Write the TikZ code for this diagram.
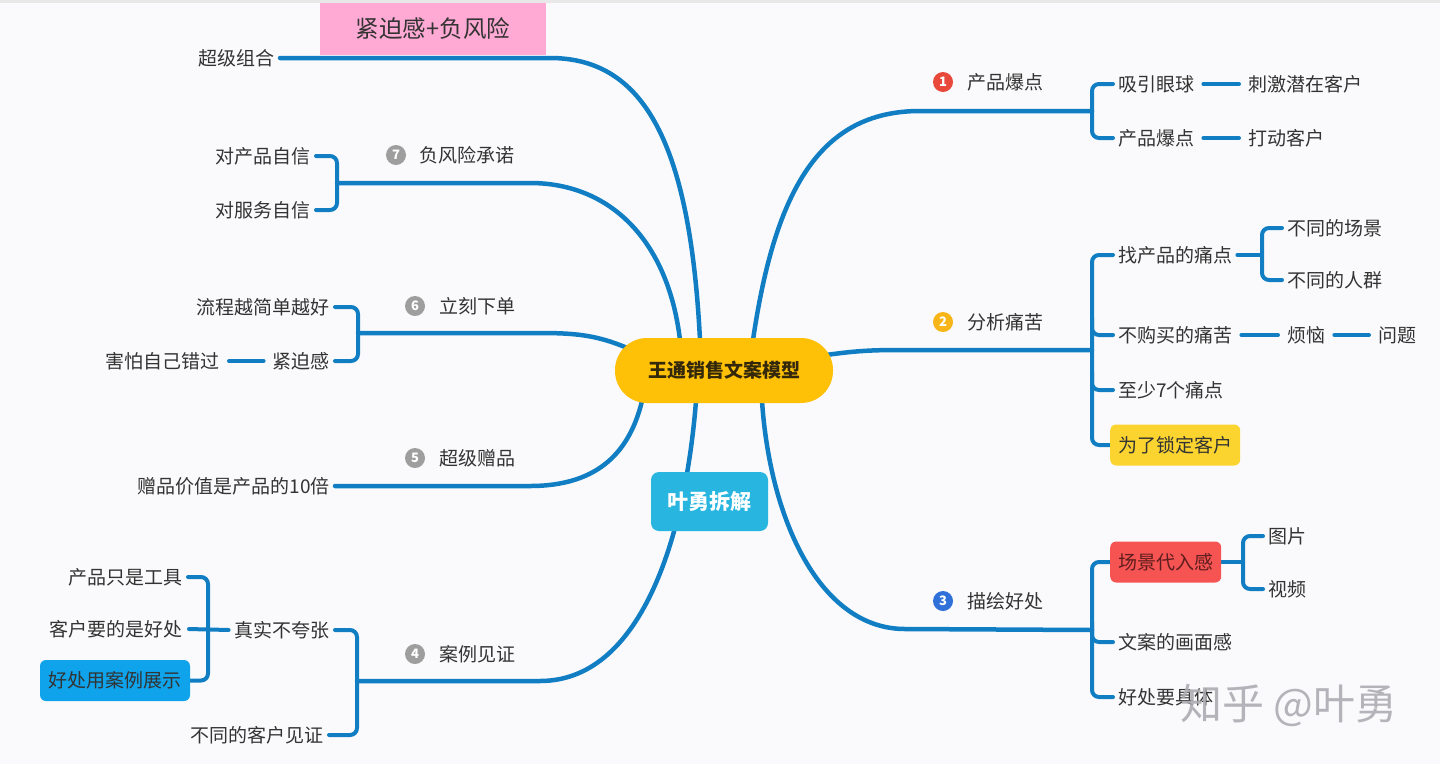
\documentclass[tikz,border=0pt]{standalone}
\usepackage{fontspec}
\newfontfamily\cjk{Noto Sans CJK SC}
\usetikzlibrary{backgrounds}
\pgfdeclarelayer{bgzero}
\pgfsetlayers{bgzero,background,main}
\definecolor{lineblue}{RGB}{17,126,196}
\definecolor{txt}{RGB}{51,51,51}
\definecolor{pagebg}{RGB}{250,250,252}
\definecolor{centerfill}{RGB}{255,192,8}
\definecolor{centertext}{RGB}{51,40,10}
\definecolor{tealbox}{RGB}{40,182,224}
\definecolor{pinkbox}{RGB}{255,170,212}
\definecolor{yellowbox}{RGB}{251,212,48}
\definecolor{redbox}{RGB}{246,83,83}
\definecolor{bluebox}{RGB}{14,163,235}
\definecolor{bred}{RGB}{232,73,58}
\definecolor{bamber}{RGB}{247,181,24}
\definecolor{bblue}{RGB}{48,112,217}
\definecolor{bgray}{RGB}{158,158,158}
\definecolor{wmark}{RGB}{172,172,178}
\tikzset{
  lbl/.style={font=\cjk\fontsize{19}{20}\selectfont, text=txt, inner xsep=5pt, inner ysep=2pt},
  rl/.style={lbl, anchor=west},
  ll/.style={lbl, anchor=east},
  mainline/.style={draw=lineblue, line width=4.5pt, line cap=round},
  subline/.style={draw=lineblue, line width=4pt, line cap=round, rounded corners=7pt},
  linkline/.style={subline, shorten <=4pt, shorten >=4pt},
  badge/.style={circle, inner sep=0pt, minimum size=20pt, text=white, font=\cjk\bfseries\fontsize{13}{13}\selectfont},
  colbox/.style={lbl, rounded corners=6pt, minimum height=41pt, inner xsep=8pt}
}
\begin{document}
\begin{tikzpicture}[x=1pt,y=-1pt]
\useasboundingbox (0,0) rectangle (1440,764);
\begin{pgfonlayer}{bgzero}
  \fill[pagebg] (0,0) rectangle (1440,764);
  \fill[gray!18] (0,0) rectangle (1440,3);
\end{pgfonlayer}

% central and special nodes
\node[rectangle, rounded corners=32pt, fill=centerfill, minimum width=218pt, minimum height=65pt,
      font=\cjk\bfseries\fontsize{19}{20}\selectfont, text=centertext] (c) at (724,370.5) {王通销售文案模型};
\node[rectangle, rounded corners=8pt, fill=tealbox, minimum width=117pt, minimum height=59pt,
      font=\cjk\bfseries\fontsize{21}{22}\selectfont, text=white] (yy) at (709.5,501.5) {叶勇拆解};
\node[rectangle, fill=pinkbox, minimum width=226pt, minimum height=52pt,
      font=\cjk\fontsize{23.5}{24}\selectfont, text=txt] (p0) at (433,29) {紧迫感+负风险};

% branch start / junction points
\coordinate (c0) at (700,340);
\coordinate (c7) at (680,340);
\coordinate (c6) at (632,350);
\coordinate (c5) at (642,401);
\coordinate (c4) at (696,401);
\coordinate (c1) at (753,340);
\coordinate (c2) at (826,355);
\coordinate (c3) at (762,401);
\coordinate (b1) at (1092,111);
\coordinate (b2) at (1092,350);
\coordinate (b3) at (1092,630);
\coordinate (b7) at (337,183);
\coordinate (b6) at (358,333);
\coordinate (b4) at (357,681);

% ---------- right side ----------
\node[badge, fill=bred] (n1) at (943,82) {1};
\node[rl] (t1) at (962,82) {产品爆点};
\node[rl] (r1a) at (1113,84) {吸引眼球};
\node[rl] (r1a1) at (1243,84) {刺激潜在客户};
\node[rl] (r1b) at (1113,138) {产品爆点};
\node[rl] (r1b1) at (1243,138) {打动客户};

\node[badge, fill=bamber] (n2) at (943,322) {2};
\node[rl] (t2) at (962,322) {分析痛苦};
\node[rl] (r2a) at (1113,255) {找产品的痛点};
\node[rl] (r2a1) at (1282,228) {不同的场景};
\node[rl] (r2a2) at (1282,280) {不同的人群};
\node[rl] (r2b) at (1113,335) {不购买的痛苦};
\node[rl] (r2b1) at (1282,335) {烦恼};
\node[rl] (r2b2) at (1373,335) {问题};
\node[rl] (r2c) at (1113,390) {至少7个痛点};
\node[colbox, anchor=west, fill=yellowbox] (r2d) at (1110,445) {为了锁定客户};

\node[badge, fill=bblue] (n3) at (943,601) {3};
\node[rl] (t3) at (962,601) {描绘好处};
\node[colbox, anchor=west, fill=redbox, text={rgb,255:red,95;green,30;blue,30}] (r3a) at (1110,562) {场景代入感};
\node[rl] (r3a1) at (1263,536) {图片};
\node[rl] (r3a2) at (1263,589) {视频};
\node[rl] (r3b) at (1113,642) {文案的画面感};
\node[rl] (r3c) at (1113,697) {好处要具体};

% ---------- left side ----------
\node[ll] (l0) at (280,58) {超级组合};

\node[badge, fill=bgray] (n7) at (396,155) {7};
\node[rl] (t7) at (414,155) {负风险承诺};
\node[ll] (l7a) at (316,156) {对产品自信};
\node[ll] (l7b) at (316,210) {对服务自信};

\node[badge, fill=bgray] (n6) at (415,306) {6};
\node[rl] (t6) at (434,306) {立刻下单};
\node[ll] (l6a) at (335,307) {流程越简单越好};
\node[ll] (l6b) at (335,361) {紧迫感};
\node[ll] (l6b1) at (225,361) {害怕自己错过};

\node[badge, fill=bgray] (n5) at (415,458) {5};
\node[rl] (t5) at (434,458) {超级赠品};
\node[ll] (l5a) at (335,486) {赠品价值是产品的10倍};

\node[badge, fill=bgray] (n4) at (415,654) {4};
\node[rl] (t4) at (434,654) {案例见证};
\node[ll] (l4a) at (335,630) {真实不夸张};
\node[ll] (l4b) at (329,735) {不同的客户见证};
\node[ll] (l4a1) at (188,577) {产品只是工具};
\node[ll] (l4a2) at (188,629) {客户要的是好处};
\node[colbox, fill=bluebox, minimum width=150pt] (l4a3) at (115,680.5) {好处用案例展示};

% watermark (printed over the picture)
\node[font=\cjk\fontsize{42}{44}\selectfont, text=wmark, opacity=0.9] (wm) at (1289,705) {知乎 @叶勇};

% ---------- connectors ----------
\begin{pgfonlayer}{background}
  % main branches
  \draw[mainline] (c1) .. controls (775,190) and (820,111) .. (920,111) -- (b1);
  \draw[mainline] (c2) .. controls (855,351) and (870,350) .. (900,350) -- (b2);
  \draw[mainline] (c3) .. controls (770,520) and (820,629) .. (905,629) -- (b3);
  \draw[mainline] (c0) .. controls (690,145) and (645,58) .. (550,58) -- (l0.east);
  \draw[mainline] (c7) .. controls (668,240) and (610,183) .. (530,183) -- (b7);
  \draw[mainline] (c6) .. controls (600,336) and (580,333) .. (540,333) -- (b6);
  \draw[mainline] (c5) .. controls (630,450) and (600,486) .. (530,486) -- (l5a.east);
  \draw[mainline] (c4) .. controls (685,540) and (640,681) .. (540,681) -- (b4);

  % group 1
  \draw[subline] (r1a.west) -| (b1) |- (r1b.west);
  \draw[linkline] (r1a.east) -- (r1a1.west);
  \draw[linkline] (r1b.east) -- (r1b1.west);

  % group 2
  \draw[subline] (r2a.west) -| (b2) |- (r2d.west);
  \draw[subline] (1092,318) |- (r2b.west);
  \draw[subline] (1092,372) |- (r2c.west);
  \draw[subline] (r2a.east) -- (1262,255);
  \draw[subline] (r2a1.west) -| (1262,255) |- (r2a2.west);
  \draw[linkline] (r2b.east) -- (r2b1.west);
  \draw[linkline] (r2b1.east) -- (r2b2.west);

  % group 3
  \draw[subline] (r3a.west) -| (b3) |- (r3c.west);
  \draw[subline] (1092,622) |- (r3b.west);
  \draw[subline] (r3a.east) -- (1243,562);
  \draw[subline] (r3a1.west) -| (1243,562) |- (r3a2.west);

  % group 7
  \draw[subline] (l7a.east) -| (b7) |- (l7b.east);

  % group 6
  \draw[subline] (l6a.east) -| (b6) |- (l6b.east);
  \draw[linkline] (l6b.west) -- (l6b1.east);

  % group 4
  \draw[subline] (l4a.east) -| (b4) |- (l4b.east);
  \draw[subline] (l4a1.east) -| (208,629) |- (l4a3.east);
  \draw[subline, shorten <=1pt, shorten >=1pt] (l4a.west) -- (l4a2.east);
\end{pgfonlayer}
\end{tikzpicture}
\end{document}
